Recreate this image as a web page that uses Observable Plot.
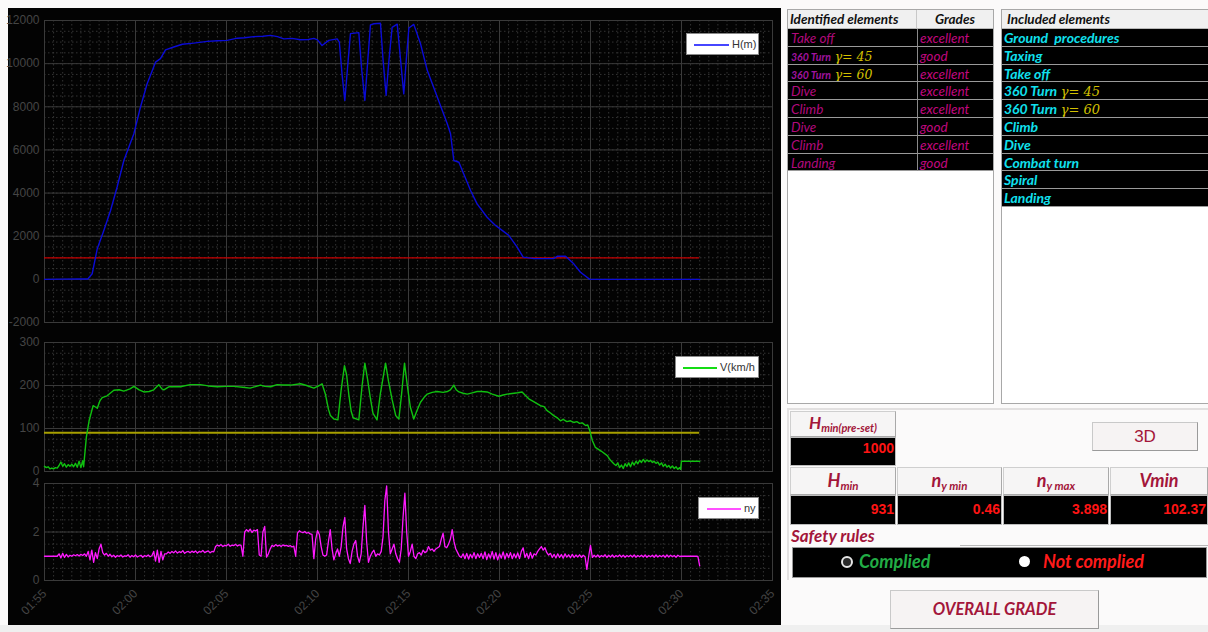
<!DOCTYPE html>
<html><head><meta charset="utf-8">
<script src="https://cdn.jsdelivr.net/npm/d3@7"></script>
<script src="https://cdn.jsdelivr.net/npm/@observablehq/plot@0.6"></script>
<style>
body{margin:0;background:#fbfafa;}
#app{position:relative;width:1208px;height:632px;overflow:hidden;background:#fbfafa;font-family:Lato,"Open Sans",sans-serif;}
.abs{position:absolute;box-sizing:border-box;}
.plotwrap{position:absolute;left:0;}
.legend{position:absolute;box-sizing:border-box;background:#fff;border:1px solid #8a8a8a;font-family:"Liberation Sans",Arial,sans-serif;font-size:11px;color:#333;}
.legend .ln{position:absolute;height:1.5px;}
.legend .tx{position:absolute;top:4px;}
.tbl{position:absolute;box-sizing:border-box;background:#fff;border:1px solid #a8a8a8;overflow:hidden;}
.hdr{position:absolute;box-sizing:border-box;background:#f0f0f0;border-bottom:1px solid #b8b8b8;font-weight:700;font-style:italic;font-size:13.5px;color:#111;line-height:18px;}
.row{position:absolute;box-sizing:border-box;background:#000;border-bottom:1px solid #9a9a9a;font-style:italic;white-space:pre;overflow:hidden;}
.gam{font-family:"DejaVu Serif",serif;font-style:italic;color:#d2c000;font-size:12px;font-weight:400;}
.cellh{position:absolute;box-sizing:border-box;background:#f6f5f5;border:1px solid #cfcfcf;border-right-color:#a9a9a9;border-bottom-color:#a9a9a9;color:#a3163a;font-weight:700;font-style:italic;text-align:center;}
.cellv{position:absolute;box-sizing:border-box;background:#000;border:1px solid #bdbdbd;color:#ff1414;font-family:"Liberation Sans",Arial,sans-serif;font-weight:700;font-size:13px;text-align:right;padding-right:1px;}
.btn{position:absolute;box-sizing:border-box;background:#f6f3f3;border:1px solid #c9c9c9;border-right-color:#9a9a9a;border-bottom-color:#9a9a9a;color:#a3163a;text-align:center;}
sub{font-size:10px;vertical-align:-3px;}
</style></head>
<body><div id="app"></div>
<script>
// ---------------- data ----------------
const startLabel = "01:55";
const timeTickLabels = ["01:55","02:00","02:05","02:10","02:15","02:20","02:25","02:30","02:35"];
const hTicks = [-2000,0,2000,4000,6000,8000,10000,12000];
const vTicks = [0,100,200,300];
const nyTicks = [0,2,4];
const hMinPreset = 1000;   // H min (pre-set) reference line
const vLimit = 90;         // speed reference line
const dataEndMin = 36;     // minutes after 01:55 where recording ends

// altitude H(m): [minutes after 01:55, metres]
const hSeries = [[0,0],[1.0,10],[2.0,20],[2.38,20],[2.62,260],[2.9,1420],[3.26,2270],[3.63,3190],[3.99,4280],[4.36,5510],[4.91,6750],[5.27,7980],[5.64,9070],[6.1,10070],[6.37,10230],[6.65,10640],[7.1,10770],[7.57,10900],[8.2,10950],[8.94,11030],[9.5,11060],[10.04,11080],[10.59,11180],[11.0,11200],[11.5,11250],[12.0,11270],[12.42,11310],[12.8,11250],[13.15,11150],[13.6,11170],[14.07,11110],[14.5,11120],[14.8,11170],[15.0,11100],[15.25,10840],[15.62,11080],[16.08,11150],[16.2,11000],[16.35,9500],[16.5,8290],[16.65,9800],[16.81,11390],[17.27,11440],[17.42,9800],[17.6,8290],[17.75,10000],[17.91,11800],[18.1,11850],[18.46,11870],[18.6,10200],[18.77,8530],[18.92,10100],[19.1,11680],[19.38,11830],[19.55,10300],[19.74,8600],[19.88,10200],[20.02,11650],[20.29,11820],[20.66,10920],[21.03,9690],[21.58,8450],[22.13,7210],[22.31,6750],[22.49,5510],[22.77,5430],[23.41,4120],[23.77,3500],[24.32,2880],[24.78,2500],[25.51,2040],[25.97,1490],[26.3,1030],[26.89,960],[27.98,960],[28.17,1070],[28.63,1070],[29.08,720],[29.45,330],[29.96,0],[36.0,0]];

// speed V(km/h): [minutes after 01:55, km/h]
const vSeries = [[0,12],[0.1,9],[0.2,11],[0.3,6],[0.4,8],[0.5,6],[0.6,9],[0.7,8],[0.8,14],[0.9,22],[1.0,12],[1.1,18],[1.2,10],[1.3,16],[1.4,12],[1.5,17],[1.6,11],[1.7,19],[1.8,10],[1.9,24],[2.0,9],[2.1,25],[2.15,11],[2.3,80],[2.45,118],[2.67,153],[2.8,150],[2.9,147],[3.05,165],[3.17,172],[3.44,176],[3.81,189],[4.1,190],[4.36,187],[4.7,192],[4.91,198],[5.2,190],[5.46,185],[5.75,186],[6.0,190],[6.28,202],[6.45,192],[6.56,190],[6.83,197],[7.47,197],[8.0,202],[8.57,202],[9.0,199],[9.49,197],[10.0,198],[10.4,198],[10.9,196],[11.3,194],[11.87,201],[12.1,198],[12.42,197],[12.78,202],[13.1,201],[13.52,201],[14.07,204],[14.4,200],[14.8,194],[15.1,200],[15.25,204],[15.44,179],[15.6,145],[15.71,130],[15.9,122],[16.12,120],[16.3,190],[16.48,246],[16.6,225],[16.72,179],[16.85,140],[16.96,125],[17.27,120],[17.45,200],[17.6,252],[17.75,215],[17.9,172],[18.05,135],[18.27,120],[18.45,180],[18.74,252],[18.9,210],[19.1,167],[19.3,130],[19.47,122],[19.62,180],[19.78,252],[19.95,195],[20.1,150],[20.29,122],[20.45,140],[20.66,161],[20.85,172],[21.03,180],[21.3,184],[21.58,186],[21.9,184],[22.13,186],[22.3,190],[22.49,201],[22.62,190],[22.77,185],[23.0,182],[23.23,180],[23.5,183],[23.77,186],[24.0,186],[24.32,185],[24.6,180],[24.96,175],[25.2,178],[25.42,180],[25.8,182],[26.0,183],[26.24,185],[26.4,178],[26.61,169],[26.9,162],[27.25,153],[27.45,151],[27.6,142],[27.8,136],[27.98,130],[28.2,124],[28.35,118],[28.5,121],[28.7,116],[28.9,118],[29.08,114],[29.25,116],[29.4,112],[29.55,113],[29.73,107],[29.85,108],[29.96,95],[30.1,72],[30.27,56],[30.6,47],[30.92,37],[31.1,26],[31.28,18],[31.4,14],[31.5,20],[31.6,9],[31.7,15],[31.8,7],[31.9,18],[32.0,12],[32.1,20],[32.2,11],[32.3,22],[32.4,15],[32.5,24],[32.6,18],[32.7,26],[32.8,21],[32.9,28],[33.0,22],[33.1,27],[33.2,23],[33.3,26],[33.4,21],[33.5,24],[33.6,19],[33.7,22],[33.8,15],[33.9,20],[34.0,12],[34.1,17],[34.2,10],[34.3,14],[34.4,8],[34.5,13],[34.6,7],[34.7,11],[34.8,5],[34.9,9],[34.95,5],[35.0,24],[36.0,24]];

// load factor ny, sampled every 0.1 min from 01:55 (one line = one minute)
const nyStepMin = 0.1;
const nyValues = [
1.0,1.0,1.0,1.0,1.0,1.0,1.0,1.0,1.1,0.93,
1.12,0.95,1.08,0.97,1.04,1.0,1.06,1.02,1.07,1.01,
1.08,1.03,1.1,1.0,1.2,0.85,1.25,0.75,1.15,0.9,
1.3,1.5,1.15,1.05,1.12,1.0,1.08,0.98,1.04,0.96,
1.03,0.99,1.05,0.97,1.02,1.0,1.06,0.96,1.03,0.98,
1.05,0.97,1.01,1.04,0.96,1.03,0.99,1.05,0.98,1.02,
1.2,0.8,1.25,0.75,1.2,0.85,1.1,1.1,1.18,1.12,
1.2,1.14,1.22,1.13,1.19,1.15,1.23,1.12,1.18,1.2,
1.14,1.21,1.16,1.22,1.13,1.2,1.17,1.24,1.15,1.19,
1.22,1.14,1.2,1.18,1.4,1.46,1.42,1.48,1.4,1.45,
1.43,1.5,1.41,1.46,1.44,1.49,1.42,1.47,1.45,1.0,
2.0,2.1,2.02,2.12,1.98,2.08,2.04,2.1,1.05,1.0,
2.0,2.23,0.96,1.1,1.3,1.45,1.4,1.48,1.42,1.46,
1.4,1.47,1.43,1.45,1.41,1.44,1.38,1.42,1.0,1.95,
2.05,2.0,1.97,2.02,1.95,1.98,1.92,1.9,0.9,1.7,
2.06,1.9,1.4,1.05,1.0,1.05,1.6,2.1,1.3,0.85,
1.1,1.3,1.0,1.4,2.2,2.6,1.3,0.9,0.7,1.2,
1.5,1.65,1.0,0.75,1.1,2.2,3.1,1.6,0.75,1.0,
1.15,1.25,1.0,1.1,1.05,1.2,1.8,3.3,3.898,2.0,
1.1,1.3,1.5,1.1,0.9,0.75,1.3,2.6,3.6,2.0,
1.0,1.2,1.5,1.0,0.9,1.1,1.15,1.05,1.25,1.15,
1.2,1.4,1.25,1.3,1.2,1.3,1.35,1.4,1.7,1.95,
1.4,1.35,1.5,1.7,2.1,1.6,1.3,1.15,1.0,0.95,
1.1,0.9,1.12,0.88,1.08,0.93,1.15,0.9,1.1,0.95,
1.12,0.9,1.18,0.86,1.1,0.92,1.2,0.88,1.15,0.85,
1.1,0.92,1.18,0.88,1.12,0.94,1.15,0.9,1.1,0.93,
1.14,0.9,1.2,1.35,0.95,1.12,0.9,1.16,0.92,1.1,
1.05,1.2,1.3,1.4,1.25,1.35,1.15,1.05,1.12,0.95,
1.08,0.93,1.1,0.95,1.07,0.92,1.1,0.96,1.06,0.94,
1.08,0.95,1.05,0.97,1.06,0.95,1.04,0.98,0.46,1.0,
1.45,0.95,1.04,0.97,1.05,0.96,1.03,0.98,1.06,0.95,
1.04,0.97,1.05,0.96,1.03,0.98,1.05,0.97,1.04,0.96,
1.03,0.98,1.04,0.97,1.05,0.96,1.03,0.98,1.04,0.97,
1.05,0.96,1.03,0.98,1.04,0.96,1.05,0.97,1.03,0.98,
1.04,0.96,1.05,0.97,1.04,0.98,1.03,0.96,1.04,0.99,
1.0,1.0,1.0,1.0,1.0,1.0,1.0,1.0,1.0,0.99,
0.6];

// right-hand panel content
const identifiedElements = ["Take off","360 Turn|γ= 45","360 Turn|γ= 60","Dive","Climb","Dive","Climb","Landing"];
const grades = ["excellent","good","excellent","excellent","excellent","good","excellent","good"];
const includedElements = ["Ground  procedures","Taxing","Take off","360 Turn|γ= 45","360 Turn|γ= 60","Climb","Dive","Combat turn","Spiral","Landing"];
const hMinPresetText = "1000";
const statLabels = [["H","min"],["n","y min"],["n","y max"],["Vmin",""]];
const statValues = ["931","0.46","3.898","102.37"];

// ---------------- helpers ----------------
const app = document.getElementById("app");
const [sh, sm] = startLabel.split(":").map(Number);
const BASE = Date.UTC(2000, 0, 1, sh, sm);
const toDate = m => new Date(BASE + m * 60000);
const xDomain = [toDate(0), toDate(40)];
const majorX = timeTickLabels.map(s => { const [h, m] = s.split(":").map(Number); return new Date(Date.UTC(2000,0,1,h,m)); });
const minorX = d3.utcSecond.every(30).range(xDomain[0], xDomain[1]);

function add(html){ const d=document.createElement("div"); d.innerHTML=html; while(d.firstChild) app.appendChild(d.firstChild); }

add('<div class="abs" style="left:8px;top:8px;width:773px;height:617px;background:#030303"></div>');
add('<div class="abs" style="left:0;top:625px;width:1208px;height:7px;background:#efefef"></div>');

function chart(o){
  const yMinor = d3.range(o.yDomain[0], o.yDomain[1] + 1e-9, o.minorStep);
  const p = Plot.plot({
    width: 781, height: o.height,
    marginLeft: 44, marginRight: 9, marginTop: o.mt, marginBottom: o.mb,
    style: {background: "transparent", color: "#454545", fontSize: "12px", fontFamily: "'Liberation Sans', Arial, sans-serif", overflow: "visible"},
    x: {type: "utc", domain: xDomain, axis: o.showX ? "bottom" : null, ticks: majorX, tickFormat: "%H:%M", tickRotate: -45, tickSize: 0, tickPadding: 11, label: null},
    y: {domain: o.yDomain, ticks: o.yTicks, tickFormat: d => String(d), tickSize: 0, tickPadding: 5, label: null},
    marks: [
      Plot.ruleX(minorX, {stroke: "#343434", strokeDasharray: "1.5,2.5"}),
      Plot.ruleY(yMinor, {stroke: "#343434", strokeDasharray: "1.5,2.5"}),
      Plot.ruleX(majorX, {stroke: "#3a3a3a"}),
      Plot.ruleY(o.yTicks, {stroke: "#3a3a3a"}),
      Plot.frame({stroke: "#3a3a3a"}),
      ...(o.ref != null ? [Plot.ruleY([o.ref], {x1: toDate(0), x2: toDate(dataEndMin), stroke: o.refColor, strokeWidth: o.refWidth})] : []),
      Plot.line(o.data, {x: d => toDate(d[0]), y: d => d[1], stroke: o.stroke, strokeWidth: o.sw})
    ]
  });
  const w = document.createElement("div");
  w.className = "plotwrap"; w.style.top = o.top + "px";
  w.appendChild(p); app.appendChild(w);
}

chart({top: 0, height: 330, mt: 20, mb: 8, yDomain: [-2000, 12000], yTicks: hTicks, minorStep: 500,
  data: hSeries, stroke: "#0b0bd6", sw: 1.4, ref: hMinPreset, refColor: "#c80000", refWidth: 1.3});
chart({top: 330, height: 150, mt: 12, mb: 9, yDomain: [0, 300], yTicks: vTicks, minorStep: 25,
  data: vSeries, stroke: "#10c010", sw: 1.4, ref: vLimit, refColor: "#a8a000", refWidth: 2});
chart({top: 474, height: 158, mt: 9, mb: 52, yDomain: [0, 4], yTicks: nyTicks, minorStep: 0.5, showX: true,
  data: nyValues.map((v, i) => [i * nyStepMin, v]), stroke: "#ff1aff", sw: 1.3});

// legends
function legend(l, t, w, lx1, lx2, color, text){
  add(`<div class="legend" style="left:${l}px;top:${t}px;width:${w}px;height:22px">
    <div class="ln" style="left:${lx1-l}px;width:${lx2-lx1}px;top:10px;background:${color}"></div>
    <div class="tx" style="left:${lx2-l+3}px">${text}</div></div>`);
}
legend(686, 33, 73, 693, 728, "#4646ff", "H(m)");
legend(675, 356, 84, 682, 716, "#14dc14", "V(km/h");
legend(698, 497, 61, 706, 740, "#ff50ff", "ny");

// ---------------- right panel tables ----------------
function label(txt, mainColor, size, smallColor){
  if (txt.includes("|")) {
    const [a, g] = txt.split("|");
    return `<span style="font-size:${smallColor ? 10.5 : 14}px;font-weight:700;color:${smallColor || mainColor}">${a}</span> <span class="gam" style="font-size:${smallColor ? 12.5 : 13}px">${g}</span>`;
  }
  return `<span style="font-size:${size}px;color:${mainColor}">${txt}</span>`;
}
const ROWH = 17.8;
add('<div class="tbl" style="left:787px;top:9px;width:207px;height:395px"></div>');
add('<div class="hdr" style="left:788px;top:10px;width:129px;height:19px;padding-left:2px;border-right:1px solid #c8c8c8">Identified elements</div>');
add('<div class="hdr" style="left:917px;top:10px;width:76px;height:19px;text-align:center">Grades</div>');
identifiedElements.forEach((e, i) => {
  const top = 29 + i * ROWH;
  add(`<div class="row" style="left:788px;top:${top}px;width:130px;height:${ROWH}px;line-height:${ROWH-1}px;padding-left:3px;border-right:1px solid #8a8a8a">${label(e, "#b10a7c", 13.5, "#a0149f")}</div>`);
  add(`<div class="row" style="left:918px;top:${top}px;width:75px;height:${ROWH}px;line-height:${ROWH-1}px;padding-left:2px">${label(grades[i], "#c0087e", 13.5)}</div>`);
});

add('<div class="tbl" style="left:1001px;top:9px;width:210px;height:395px"></div>');
add('<div class="hdr" style="left:1002px;top:10px;width:208px;height:19px;padding-left:5px">Included elements</div>');
includedElements.forEach((e, i) => {
  const top = 29 + i * ROWH;
  add(`<div class="row" style="left:1002px;top:${top}px;width:208px;height:${ROWH}px;line-height:${ROWH-1}px;padding-left:2px;font-weight:700">${label(e, "#10e0ee", 14)}</div>`);
});

// ---------------- lower panel ----------------
add('<div class="abs" style="left:787px;top:408px;width:423px;height:172px;border-top:2px solid #e2e0e0;border-left:2px solid #e2e0e0"></div>');
add(`<div class="cellh" style="left:790px;top:411px;width:106px;height:26px;line-height:22px;font-size:17px">H<sub style="font-size:11px">min(pre-set)</sub></div>`);
add(`<div class="cellv" style="left:790px;top:437px;width:106px;height:29px;line-height:21px;font-size:14px">${hMinPresetText}</div>`);
add('<div class="btn" style="left:1092px;top:422px;width:106px;height:29px;line-height:27px;font-family:\'Liberation Sans\',Arial,sans-serif;font-size:17px">3D</div>');
const colX = [790, 897, 1003, 1110], colW = [106, 105, 106, 98];
statLabels.forEach((s, i) => {
  add(`<div class="cellh" style="left:${colX[i]}px;top:467px;width:${colW[i]}px;height:28px;line-height:24px;font-size:18px">${s[0]}${s[1] ? `<sub style="font-size:11.5px">${s[1]}</sub>` : ""}</div>`);
  add(`<div class="cellv" style="left:${colX[i]}px;top:495px;width:${colW[i]}px;height:30px;line-height:27px;font-size:14px">${statValues[i]}</div>`);
});
add('<div class="abs" style="left:791px;top:525px;font-size:17px;font-weight:700;font-style:italic;color:#a3163a">Safety rules</div>');
add('<div class="abs" style="left:960px;top:545px;width:250px;height:1px;background:#b9b9b9"></div>');
add('<div class="abs" style="left:792px;top:547px;width:415px;height:31px;background:#000;border:1px solid #9a9a9a"></div>');
add('<div class="abs" style="left:841px;top:556px;width:12px;height:12px;border-radius:50%;background:#2a2a2a;border:2px solid #e6e6e6"></div>');
add('<div class="abs" style="left:859px;top:550px;font-size:18px;font-weight:700;font-style:italic;color:#22ad45">Complied</div>');
add('<div class="abs" style="left:1019px;top:556px;width:11px;height:11px;border-radius:50%;background:#fff"></div>');
add('<div class="abs" style="left:1043px;top:550px;font-size:18px;font-weight:700;font-style:italic;color:#ff1a1a">Not complied</div>');
add('<div class="btn" style="left:890px;top:590px;width:209px;height:39px;line-height:37px;font-size:16.5px;font-weight:700;font-style:italic">OVERALL GRADE</div>');
</script></body></html>
